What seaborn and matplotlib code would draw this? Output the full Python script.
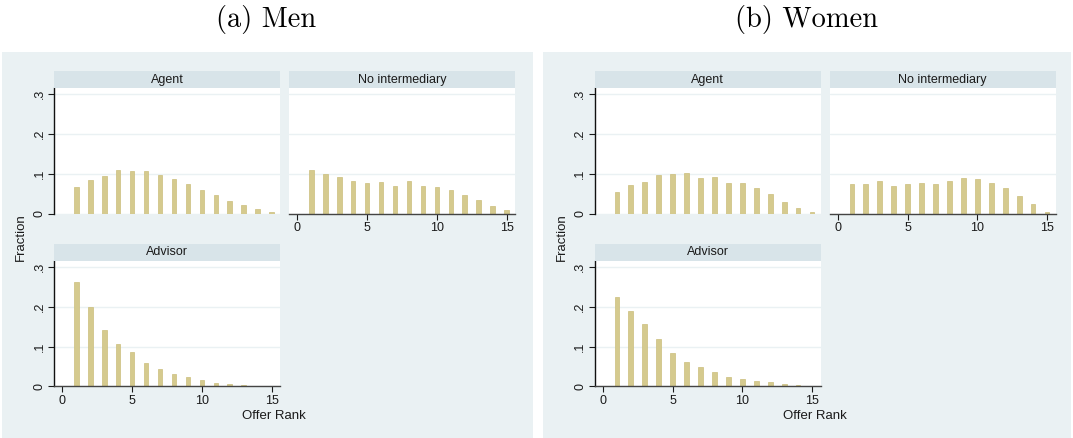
import matplotlib
matplotlib.use("Agg")
import matplotlib.pyplot as plt
from matplotlib.patches import Rectangle
import seaborn as sns
import numpy as np

# ---------------- data ----------------
rank = list(range(1, 16))
men_agent = [0.067, 0.085, 0.095, 0.110, 0.107, 0.107, 0.097, 0.087, 0.075, 0.060, 0.047, 0.032, 0.022, 0.012, 0.004]
men_noint = [0.110, 0.100, 0.092, 0.082, 0.077, 0.080, 0.070, 0.082, 0.070, 0.067, 0.060, 0.047, 0.034, 0.019, 0.009]
men_advisor = [0.263, 0.200, 0.142, 0.107, 0.087, 0.059, 0.044, 0.031, 0.024, 0.016, 0.008, 0.006, 0.003, 0.002, 0.001]
women_agent = [0.055, 0.072, 0.080, 0.098, 0.100, 0.102, 0.090, 0.092, 0.077, 0.077, 0.065, 0.050, 0.029, 0.014, 0.004]
women_noint = [0.075, 0.075, 0.082, 0.070, 0.075, 0.077, 0.075, 0.082, 0.090, 0.087, 0.077, 0.065, 0.045, 0.024, 0.004]
women_advisor = [0.225, 0.190, 0.157, 0.119, 0.084, 0.061, 0.049, 0.036, 0.024, 0.019, 0.013, 0.011, 0.006, 0.003, 0.001]

panel_titles = ["(a) Men", "(b) Women"]
facet_names = ["Agent", "No intermediary", "Advisor"]
y_ticks = [0, 0.1, 0.2, 0.3]
y_ticklabels = ["0", ".1", ".2", ".3"]
x_ticks = [0, 5, 10, 15]
x_label = "Offer Rank"
y_label = "Fraction"

# ---------------- style ----------------
sns.set_theme(style="white")
plt.rcParams["font.family"] = ["Liberation Sans", "DejaVu Sans"]

W, H = 1073, 438
DPI = 100
BG = "#EAF1F3"
STRIP = "#D8E4E9"
GRID = "#EAF1F3"
BAR = "#D5CA8E"
EDGE = "#CBBE7C"
TXT = "#1a1a1a"

fig = plt.figure(figsize=(W / DPI, H / DPI), dpi=DPI, facecolor="white")


def px_axes(x0, y0, x1, y1, **kw):
    return fig.add_axes([x0 / W, 1 - y1 / H, (x1 - x0) / W, (y1 - y0) / H], **kw)


def draw_panel(ax, vals, show_x, show_y):
    sns.histplot(x=rank, weights=vals, discrete=True, shrink=0.33, color=BAR,
                 edgecolor=EDGE, linewidth=0.5, alpha=1, ax=ax)
    ax.set_facecolor("white")
    ax.set_xlim(-0.6, 15.6)
    ax.set_ylim(0, 0.316)
    ax.set_yticks(y_ticks)
    ax.set_xticks(x_ticks)
    ax.yaxis.grid(True, color=GRID, lw=1.0)
    ax.xaxis.grid(False)
    ax.set_axisbelow(True)
    ax.set_xlabel("")
    ax.set_ylabel("")
    for s in ["top", "right"]:
        ax.spines[s].set_visible(False)
    ax.spines["left"].set_visible(show_y)
    ax.spines["left"].set_color("#111111")
    ax.spines["left"].set_linewidth(1.0)
    ax.spines["bottom"].set_visible(show_x)
    ax.spines["bottom"].set_color("#444444")
    ax.spines["bottom"].set_linewidth(1.0)
    ax.tick_params(axis="y", left=show_y, labelleft=show_y, length=4, width=0.8,
                   direction="out", labelsize=9, pad=2, colors=TXT)
    ax.tick_params(axis="x", bottom=show_x, labelbottom=show_x, length=4, width=0.8,
                   direction="out", labelsize=9, pad=2, colors=TXT)
    if show_y:
        ax.set_yticklabels(y_ticklabels, rotation=90, va="center")


def draw_strip(x0, x1, ytop, ybot, text):
    sax = px_axes(x0, ytop, x1, ybot)
    sax.set_facecolor(STRIP)
    for s in sax.spines.values():
        s.set_visible(False)
    sax.set_xticks([])
    sax.set_yticks([])
    sax.text(0.5, 0.5, text, ha="center", va="center", fontsize=9, color=TXT,
             transform=sax.transAxes)


groups = [
    (0, [men_agent, men_noint, men_advisor]),
    (540.5, [women_agent, women_noint, women_advisor]),
]

for gi, (off, data) in enumerate(groups):
    # background region
    fig.patches.append(Rectangle(((2 + off) / W, 0), (531 - (gi * 3)) / W, (438 - 52) / H,
                                 transform=fig.transFigure, facecolor=BG,
                                 edgecolor="none", zorder=-10))
    # title
    fig.text((266 + off) / W, 1 - 19 / H, panel_titles[gi], ha="center", va="center",
             fontsize=20.5, family="cmr10", color="black")
    # axes
    ax_a = px_axes(54 + off, 88, 280 + off, 213.7)
    ax_n = px_axes(289 + off, 88, 515 + off, 213.7)
    ax_d = px_axes(54 + off, 261, 280 + off, 386.3)
    draw_panel(ax_a, data[0], show_x=False, show_y=True)
    draw_panel(ax_n, data[1], show_x=True, show_y=False)
    draw_panel(ax_d, data[2], show_x=True, show_y=True)
    draw_strip(54 + off, 280 + off, 71, 88, facet_names[0])
    draw_strip(289 + off, 515 + off, 71, 88, facet_names[1])
    draw_strip(54 + off, 280 + off, 243.5, 261, facet_names[2])
    # axis titles
    fig.text((21 + off) / W, 1 - 237 / H, y_label, rotation=90, ha="center",
             va="center", fontsize=9.5, color=TXT)
    fig.text((274 + off) / W, 1 - 416 / H, x_label, ha="center", va="center",
             fontsize=9.5, color=TXT)

fig.savefig("out.png", dpi=DPI, facecolor="white")
